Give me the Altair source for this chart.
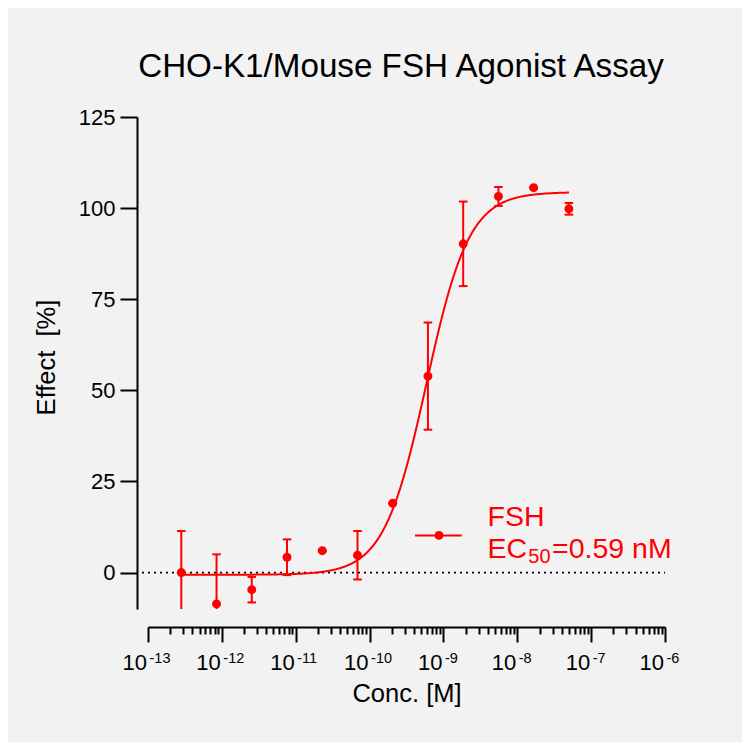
import altair as alt
import pandas as pd
import math

# ---- data ----
conc = [2.823e-13, 8.47e-13, 2.54e-12, 7.62e-12, 2.286e-11, 6.86e-11,
        2.058e-10, 6.17e-10, 1.852e-9, 5.556e-9, 1.667e-8, 5.0e-8]
effect = [0.0, -8.6, -4.7, 4.2, 6.0, 4.75, 19.0, 53.9, 90.2, 103.2, 105.6, 99.8]
err = [11.4, 13.6, 3.5, 4.9, 0.0, 6.65, 0.0, 14.7, 11.6, 2.6, 0.0, 1.6]

# 4PL fit parameters
fit_bottom = -0.6
fit_top = 104.4
fit_ec50 = 5.9e-10
fit_hill = 1.5

decades = [-13, -12, -11, -10, -9, -8, -7, -6]
minor_mult = [2, 3, 4, 5, 6, 7, 8, 9]
y_ticks = [0, 25, 50, 75, 100, 125]

FONT = "Liberation Sans"
RED = "#ff0000"
W, H = 517, 492
PAD = {"left": 140, "top": 109, "right": 77, "bottom": 133}

df = pd.DataFrame({"conc": conc, "effect": effect, "err": err})
df["lo"] = df["effect"] - df["err"]
df["hi"] = df["effect"] + df["err"]

xtick_values = [10.0 ** d for d in decades] + [m * 10.0 ** d for d in decades[:-1] for m in minor_mult]
xlabels = pd.DataFrame({"conc": [10.0 ** d for d in decades], "exp": [str(d) for d in decades]})

xscale = alt.Scale(type="log", domain=[1e-13, 1e-6], nice=False)
yscale = alt.Scale(domain=[-10, 125], nice=False, zero=False)

XT = "Conc. [M]"
YT = "Effect\u00a0\u00a0[%]"

xaxis = alt.Axis(
    values=xtick_values,
    tickSize={"condition": {"test": "abs(log(datum.value)/LN10 - round(log(datum.value)/LN10)) < 0.001", "value": 15}, "value": 7},
    tickWidth=2, domainWidth=2, labels=False, offset=18, grid=False, zindex=1,
    title=XT, titleFontSize=25.5, titlePadding=38,
)
yaxis = alt.Axis(
    values=y_ticks, tickSize=17, tickWidth=2, domainWidth=2, labelFontSize=22,
    labelPadding=5, offset=11, grid=False, zindex=1, title=YT,
    titleFontSize=25.5, titlePadding=19, titleY=240,
)


def X(field="conc"):
    return alt.X(f"{field}:Q", scale=xscale, axis=xaxis, title=XT)


def Y(field="effect"):
    return alt.Y(f"{field}:Q", scale=yscale, axis=yaxis, title=YT)


one = pd.DataFrame({"a": [0]})

zero_line = alt.Chart(one).mark_rule(color="black", strokeDash=[2, 4], strokeWidth=1.8).encode(
    y=alt.Y(datum=0, scale=yscale, axis=yaxis, title=YT),
    x=alt.value(-6), x2=alt.value(W),
)

bars = alt.Chart(df).mark_rule(color=RED, strokeWidth=2, clip=True).encode(
    x=X(), y=Y("lo"), y2="hi:Q",
)
caps_hi = alt.Chart(df).mark_rule(color=RED, strokeWidth=2, clip=True, xOffset=-4.3, x2Offset=4.3).encode(
    x=X(), x2="conc:Q", y=Y("hi"),
)
caps_lo = alt.Chart(df).mark_rule(color=RED, strokeWidth=2, clip=True, xOffset=-4.3, x2Offset=4.3).encode(
    x=X(), x2="conc:Q", y=Y("lo"),
)

seq_start = math.log10(conc[0])
seq_stop = math.log10(conc[-1])
curve = alt.Chart(alt.sequence(seq_start, seq_stop + 0.005, 0.005, as_="t")).transform_calculate(
    conc="pow(10, datum.t)"
).transform_calculate(
    effect=f"{fit_bottom} + ({fit_top} - ({fit_bottom})) / (1 + pow({fit_ec50} / datum.conc, {fit_hill}))"
).mark_line(color=RED, strokeWidth=2).encode(x=X(), y=Y())

points = alt.Chart(df).mark_circle(color=RED, size=80, opacity=1).encode(x=X(), y=Y())

# x tick labels 10^n
lab_base = alt.Chart(xlabels).mark_text(
    align="right", baseline="alphabetic", dx=-1, fontSize=22, font=FONT, color="black"
).encode(x=X(), y=alt.value(553), text=alt.value("10"))
lab_exp = alt.Chart(xlabels).mark_text(
    align="left", baseline="alphabetic", dx=1.5, fontSize=14.5, font=FONT, color="black"
).encode(x=X(), y=alt.value(546), text="exp:N")

# legend
leg_line = alt.Chart(one).mark_rule(color=RED, strokeWidth=2).encode(
    x=alt.value(267), x2=alt.value(313.7), y=alt.value(418.4)
)
leg_dot = alt.Chart(one).mark_circle(color=RED, size=80, opacity=1).encode(
    x=alt.value(291), y=alt.value(418.4)
)
leg_t1 = alt.Chart(one).mark_text(align="left", baseline="alphabetic", fontSize=28.5, font=FONT, color=RED).encode(
    x=alt.value(339.5), y=alt.value(409.4), text=alt.value("FSH")
)
leg_t2 = alt.Chart(one).mark_text(align="left", baseline="alphabetic", fontSize=28.5, font=FONT, color=RED).encode(
    x=alt.value(339.5), y=alt.value(441), text=alt.value("EC")
)
leg_t3 = alt.Chart(one).mark_text(align="left", baseline="alphabetic", fontSize=20, font=FONT, color=RED).encode(
    x=alt.value(380.3), y=alt.value(446), text=alt.value("50")
)
leg_t4 = alt.Chart(one).mark_text(align="left", baseline="alphabetic", fontSize=28.5, font=FONT, color=RED).encode(
    x=alt.value(404), y=alt.value(441), text=alt.value("=0.59 nM")
)

chart = alt.layer(
    zero_line, bars, caps_hi, caps_lo, curve, points,
    lab_base, lab_exp, leg_line, leg_dot, leg_t1, leg_t2, leg_t3, leg_t4,
).properties(
    width=W, height=H, padding=PAD, autosize="none",
    title=alt.TitleParams(
        "CHO-K1/Mouse FSH Agonist Assay", fontSize=33.2, font=FONT, fontWeight="normal",
        color="black", anchor="middle", frame="group", offset=22, dx=-5.5,
    ),
).configure(background="#f2f2f2").configure_view(stroke=None).configure_axis(
    domainColor="black", tickColor="black", labelColor="black", titleColor="black",
    labelFont=FONT, titleFont=FONT, titleFontWeight="normal",
)

chart.save("out.html", embed_options={"renderer": "svg", "actions": False})
